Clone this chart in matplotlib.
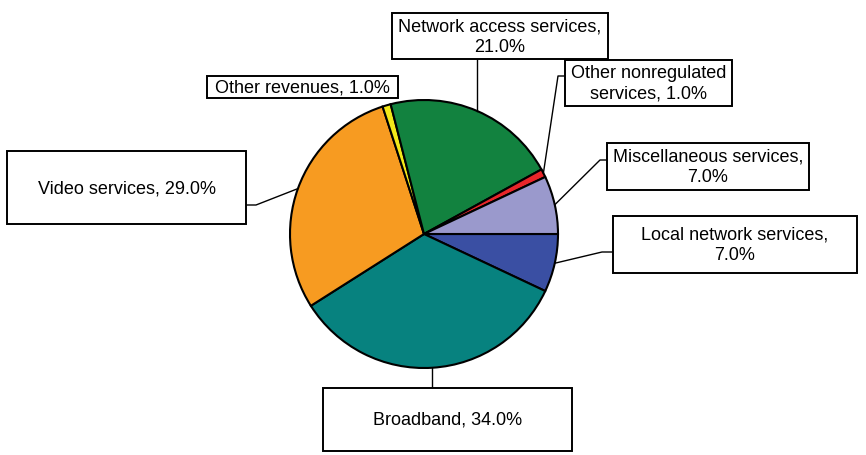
import matplotlib
matplotlib.use("Agg")
import matplotlib.pyplot as plt
from matplotlib.patches import Rectangle
import numpy as np

# ---- data ----
categories = ["Local network services", "Broadband", "Video services", "Other revenues",
              "Network access services", "Other nonregulated services", "Miscellaneous services"]
shares = [7.0, 34.0, 29.0, 1.0, 21.0, 1.0, 7.0]
label_texts = ["Local network services,\n7.0%", "Broadband, 34.0%", "Video services, 29.0%",
               "Other revenues, 1.0%", "Network access services,\n21.0%",
               "Other nonregulated\nservices, 1.0%", "Miscellaneous services,\n7.0%"]
colors = ["#3A4FA3", "#07827F", "#F79B21", "#F2E81A", "#12823F", "#E8262A", "#9A99CC"]

# ---- layout (pixel coordinates, y from top) ----
W, H = 866, 456
center_px = (424, 235)
radius_px = 134
boxes = [(613, 217, 857, 274), (323, 389, 572, 452), (7, 152, 246, 225), (207, 77, 398, 99),
         (392, 14, 608, 60), (565, 61, 732, 107), (607, 144, 809, 191)]
# leader path from box side to elbow (None = direct)
leaders = [[(613, 253), (602, 253)], [(433, 389)], [(246, 206), (256, 206)], None,
           [(478, 60)], [(565, 77), (558, 77)], [(607, 161), (600, 161)]]

fig = plt.figure(figsize=(W / 100, H / 100), dpi=100)
ax = fig.add_axes([0, 0, 1, 1])

def Y(py):
    return H - py

cx, cy = center_px[0], Y(center_px[1])
wedges, _ = ax.pie(shares, colors=colors, startangle=0, counterclock=False,
                   center=(cx, cy), radius=radius_px,
                   wedgeprops=dict(edgecolor="black", linewidth=1.5))
ax.set_xlim(0, W)
ax.set_ylim(0, H)
ax.set_aspect("equal")
ax.axis("off")

for w, txt, box, lead in zip(wedges, label_texts, boxes, leaders):
    x0, y0, x1, y1 = box
    ax.add_patch(Rectangle((x0, Y(y1)), x1 - x0, y1 - y0, facecolor="white",
                           edgecolor="black", linewidth=1.4, zorder=3))
    ax.text((x0 + x1) / 2, Y((y0 + y1) / 2), txt, ha="center", va="center",
            fontsize=13, family="Liberation Sans", linespacing=1.28, zorder=4)
    if lead:
        mid = np.deg2rad((w.theta1 + w.theta2) / 2)
        ex = cx + radius_px * np.cos(mid)
        ey = cy + radius_px * np.sin(mid)
        pts = [(p[0], Y(p[1])) for p in lead]
        if len(pts) == 1:
            pts = [(ex, pts[0][1])] if abs(ex - pts[0][0]) < 6 else pts
        xs = [p[0] for p in pts] + [ex]
        ys = [p[1] for p in pts] + [ey]
        ax.plot(xs, ys, color="black", linewidth=1.0, zorder=1)

fig.savefig("out.png", dpi=100, facecolor="white")
